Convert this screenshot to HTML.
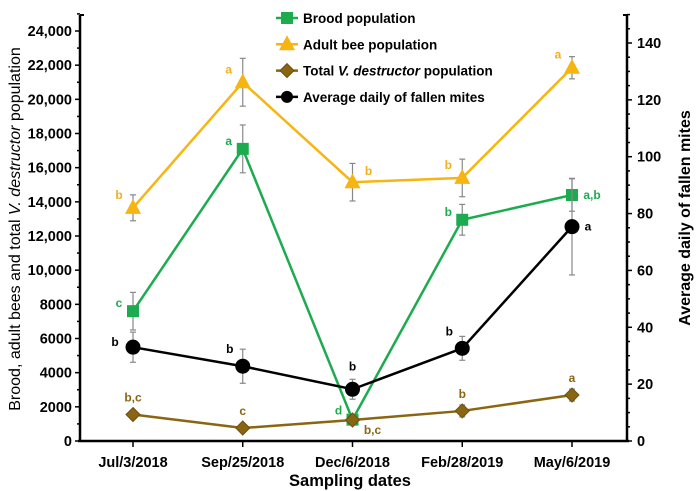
<!DOCTYPE html>
<html><head><meta charset="utf-8"><style>
body{margin:0;background:#fff}
svg{display:block;font-family:"Liberation Sans",Arial,sans-serif;font-weight:bold}
</style></head><body>
<svg id="c" width="696" height="491" viewBox="0 0 696 491">
<g id="axes"></g><g id="series"></g><g id="legend"></g>
</svg>
<script>
const categories=["Jul/3/2018","Sep/25/2018","Dec/6/2018","Feb/28/2019","May/6/2019"];
const brood=[7600,17100,1250,12950,14400];
const broodErr=[1100,1400,150,900,950];
const broodLetters=["c","a","d","b","a,b"];
const adult=[13650,21000,15150,15400,21850];
const adultErr=[760,1400,1100,1100,650];
const adultLetters=["b","a","b","b","a"];
const varroa=[1550,760,1230,1760,2690];
const varroaErr=[120,100,150,350,350];
const varroaLetters=["b,c","c","b,c","b","a"];
const mites=[33,26.3,18.2,32.6,75.4];
const mitesErr=[5.3,6,3.5,4.2,17];
const mitesLetters=["b","b","b","b","a"];
const leftTicks=[0,2000,4000,6000,8000,10000,12000,14000,16000,18000,20000,22000,24000];
const leftTickLabels=["0","2000","4000","6000","8000","10,000","12,000","14,000","16,000","18,000","20,000","22,000","24,000"];
const rightTicks=[0,20,40,60,80,100,120,140];

const NS="http://www.w3.org/2000/svg";
const X0=80,X1=627,Y0=441,YT=15;
const xs=[133,242,353,462,572];
function x(i){return xs[0]+(xs[4]-xs[0])*i/(categories.length-1);}
function yL(v){return Y0-v*(410/24000);}
function yR(v){return Y0-v*(398/140);}
function el(t,a,p,txt){const e=document.createElementNS(NS,t);for(const k in a)e.setAttribute(k,a[k]);if(txt!=null)e.textContent=txt;p.appendChild(e);return e;}
const ax=document.getElementById('axes'),sr=document.getElementById('series'),lg=document.getElementById('legend');
let e;
e=el('line',{x1:X0,y1:YT,x2:X0,y2:Y0+1,stroke:'#000','stroke-width':2.5},ax);


e=el('line',{x1:X0-2,y1:Y0,x2:X1+2,y2:Y0,stroke:'#000','stroke-width':2.5},ax);


e=el('line',{x1:X1,y1:YT,x2:X1,y2:Y0+1,stroke:'#000','stroke-width':2.5},ax);


el('line',{x1:X0,y1:YT,x2:X0+4,y2:YT,stroke:'#000','stroke-width':2},ax);
el('line',{x1:X1,y1:YT,x2:X1-4,y2:YT,stroke:'#000','stroke-width':2},ax);
for(let v=0;v<=25000;v+=1000){const y=yL(v);el('line',{x1:X0-(v%2000?3:5),y1:y,x2:X0,y2:y,stroke:'#000','stroke-width':1.5},ax);}
leftTicks.forEach((v,i)=>{e=el('text',{x:X0-8,y:yL(v)+5,'text-anchor':'end','font-size':14.5},ax,leftTickLabels[i]);

});
for(let v=0;v<=150;v+=5){const y=yR(v);el('line',{x1:X1,y1:y,x2:X1+(v%20?3:5),y2:y,stroke:'#000','stroke-width':1.5},ax);}
rightTicks.forEach(v=>{e=el('text',{x:X1+10,y:yR(v)+5,'font-size':14.5},ax,String(v));

});
categories.forEach((c,i)=>{el('line',{x1:x(i),y1:Y0,x2:x(i),y2:Y0+6,stroke:'#000','stroke-width':1.5},ax);
e=el('text',{x:x(i),y:467,'text-anchor':'middle','font-size':14.5},ax,c);

});
e=el('text',{x:350,y:486,'text-anchor':'middle','font-size':16.5},ax,'Sampling dates');


e=el('text',{transform:'translate(20,229) rotate(-90)','text-anchor':'middle','font-size':16,'font-weight':'normal'},ax);
e.innerHTML='Brood, adult bees and total <tspan font-style="italic">V. destructor</tspan> population';


e=el('text',{transform:'translate(690,218) rotate(-90)','text-anchor':'middle','font-size':16},ax,'Average daily of fallen mites');



function marker(g,shape,cx,cy,col){
 if(shape==='sq')return el('rect',{x:cx-6,y:cy-6,width:12,height:12,fill:col},g);
 if(shape==='tri')return el('polygon',{points:`${cx},${cy-9} ${cx+8},${cy+6} ${cx-8},${cy+6}`,fill:col},g);
 if(shape==='dia')return el('polygon',{points:`${cx},${cy-7} ${cx+7},${cy} ${cx},${cy+7} ${cx-7},${cy}`,fill:col,stroke:'#6b5010','stroke-width':1},g);
 return el('circle',{cx:cx,cy:cy,r:7.5,fill:col},g);
}
function series(name,vals,errs,letters,yf,col,shape,lcol,lo){
 const g=el('g',{},sr);
 
 
 const p=vals.map((v,i)=>`${x(i)},${yf(v)}`).join(' ');
 el('polyline',{points:p,fill:'none',stroke:col,'stroke-width':2.5},g);
 vals.forEach((v,i)=>{const cx=x(i),t=yf(v+errs[i]),b=yf(v-errs[i]);
  el('line',{x1:cx,y1:t,x2:cx,y2:b,stroke:'#888','stroke-width':1.2},g);
  el('line',{x1:cx-3,y1:t,x2:cx+3,y2:t,stroke:'#888','stroke-width':1.2},g);
  el('line',{x1:cx-3,y1:b,x2:cx+3,y2:b,stroke:'#888','stroke-width':1.2},g);
  const m=marker(g,shape,cx,yf(v),col);
  
  
  const o=lo(i);
  const t2=el('text',{x:cx+o[0],y:yf(v)+o[1],'text-anchor':'middle','font-size':12,fill:lcol},g,letters[i]);
  
  
 });
}
series('adult',adult,adultErr,adultLetters,yL,'#f6b512','tri','#f0b020',i=>i===2?[16,-7]:[-14,-9]);
series('brood',brood,broodErr,broodLetters,yL,'#1dab4f','sq','#1dab4f',i=>i===4?[20,4]:i===2?[-14,-5]:[-14,-4]);
series('varroa',varroa,varroaErr,varroaLetters,yL,'#8a6512','dia','#8a6512',i=>i===2?[20,14]:[0,-13]);
series('mites',mites,mitesErr,mitesLetters,yR,'#000','ci','#000',i=>i===4?[16,4]:i===2?[0,-19]:i===0?[-18,-1]:[-13,-13]);

const leg=[["Brood population",'#1dab4f','sq'],["Adult bee population",'#f6b512','tri'],["Total V. destructor population",'#8a6512','dia'],["Average daily of fallen mites",'#000','ci']];
leg.forEach((l,i)=>{const y=18+i*26.3;const g=el('g',{},lg);
 
 
 el('line',{x1:276,y1:y,x2:298,y2:y,stroke:l[1],'stroke-width':2.5},g);
 const m=marker(g,l[2],287,y,l[1]);if(l[2]==='ci')m.setAttribute('r',6);
 const t=el('text',{x:303,y:y+5,'font-size':13.5},g);
 if(i===2)t.innerHTML='Total <tspan font-style="italic">V. destructor</tspan> population';else t.textContent=l[0];
});
</script>
</body></html>
